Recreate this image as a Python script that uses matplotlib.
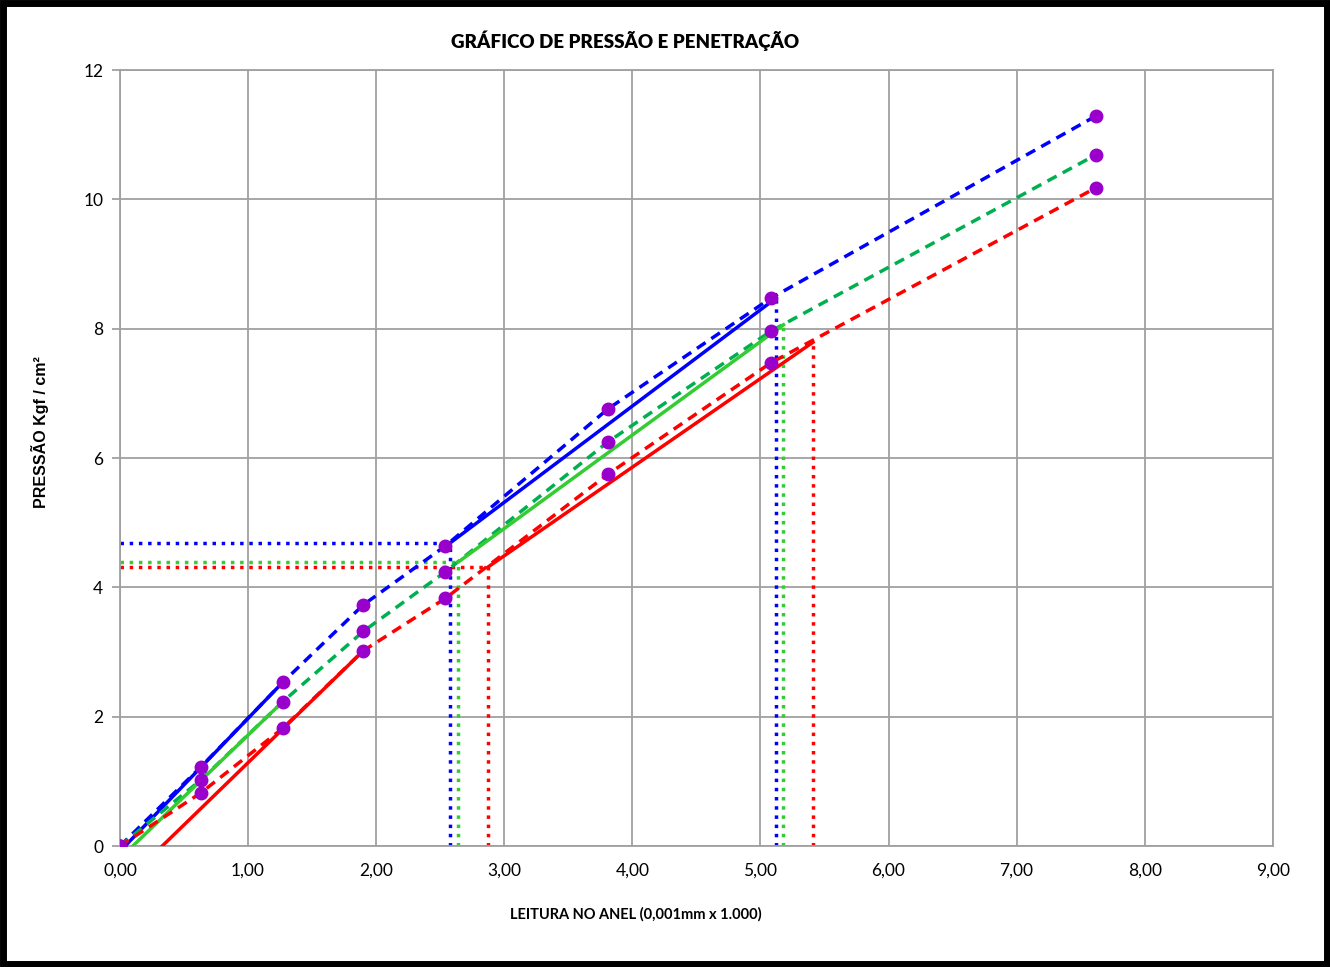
import numpy as np
import matplotlib.pyplot as plt
from matplotlib.patches import Rectangle

# leituras (mm) e pressões (kgf/cm²) de cada corpo de prova
penetracao = [0.00, 0.63, 1.27, 1.90, 2.54, 3.81, 5.08, 7.62]
pressao_azul = [0.00, 1.22, 2.53, 3.73, 4.64, 6.76, 8.47, 11.29]
pressao_verde = [0.00, 1.02, 2.23, 3.32, 4.24, 6.25, 7.96, 10.69]
pressao_verm = [0.00, 0.82, 1.82, 3.02, 3.83, 5.75, 7.47, 10.18]

# correção de origem (início da reta)
origem = {'azul': 0.04, 'verde': 0.10, 'verm': 0.33}
# fim do primeiro trecho reto
fim_reta = {'azul': (1.27, 2.53), 'verde': (1.27, 2.23), 'verm': (1.90, 3.02)}
# pontos corrigidos em 2,54 e 5,08
corr_254 = {'azul': (2.58, 4.69), 'verde': (2.64, 4.39), 'verm': (2.87, 4.31)}
corr_508 = {'azul': (5.12, 8.47), 'verde': (5.18, 8.06), 'verm': (5.41, 7.79)}

series = [
    ('azul', pressao_azul, '#0000FF', '#0000FF'),
    ('verde', pressao_verde, '#00B050', '#33CC33'),
    ('verm', pressao_verm, '#FF0000', '#FF0000'),
]

fig = plt.figure(figsize=(13.3, 9.67), dpi=100)
ax = fig.add_axes([0.0902, 0.1251, 0.8668, 0.8025])

for key, y, c_dash, c_solid in series:
    ax.plot(penetracao, y, '--', color=c_dash, lw=2.5, dashes=(3, 2), zorder=3)
    x0 = origem[key]
    xe, ye = fim_reta[key]
    ax.plot([x0, xe], [0, ye], '-', color=c_solid, lw=2.5, zorder=3)
    xa, ya = corr_254[key]
    xb, yb = corr_508[key]
    ax.plot([xa, xb], [ya, yb], '-', color=c_solid, lw=2.5, zorder=3)
    # linhas de leitura
    ax.plot([0, xa], [ya, ya], ':', color=c_solid, lw=2.5, zorder=2)
    ax.plot([xa, xa], [0, ya], ':', color=c_solid, lw=2.5, zorder=2)
    ax.plot([xb, xb], [0, yb], ':', color=c_solid, lw=2.5, zorder=2)

for y in (pressao_azul, pressao_verde, pressao_verm):
    ax.plot(penetracao, y, 'o', color='#9900CC', ms=9, zorder=4)

ax.set_xlim(0, 9)
ax.set_ylim(0, 12)
ax.set_xticks(np.arange(0, 10, 1))
ax.set_xticklabels([f'{v:.2f}'.replace('.', ',') for v in range(10)],
                   fontsize=12.5, family='Lato')
ax.set_yticks(np.arange(0, 13, 2))
ax.set_yticklabels([str(v) for v in range(0, 13, 2)], fontsize=12.5, family='Lato')
ax.grid(True, color='#A0A0A0', lw=1.3)
for s in ax.spines.values():
    s.set_color('#A0A0A0')
    s.set_linewidth(1.3)
ax.tick_params(axis='y', color='#A0A0A0', length=6, width=1.3, pad=6)
ax.tick_params(axis='x', length=0, pad=12)
ax.set_axisbelow(True)

fig.text(0.47, 0.958, 'GRÁFICO DE PRESSÃO E PENETRAÇÃO', ha='center', va='center',
         fontsize=13.5, fontweight='heavy', family='Lato')
fig.text(0.478, 0.054, 'LEITURA NO ANEL (0,001mm x 1.000)', ha='center', va='center',
         fontsize=10.5, fontweight='bold', family='Lato')
fig.text(0.030, 0.553, 'PRESSÃO Kgf / cm²', ha='center', va='center', rotation=90,
         fontsize=11.5, fontweight='bold', family='Liberation Sans')

fig.patches.append(Rectangle((0.002, 0.003), 0.996, 0.994, transform=fig.transFigure,
                             fill=False, edgecolor='black', lw=5))

fig.savefig('out.png', dpi=100)
